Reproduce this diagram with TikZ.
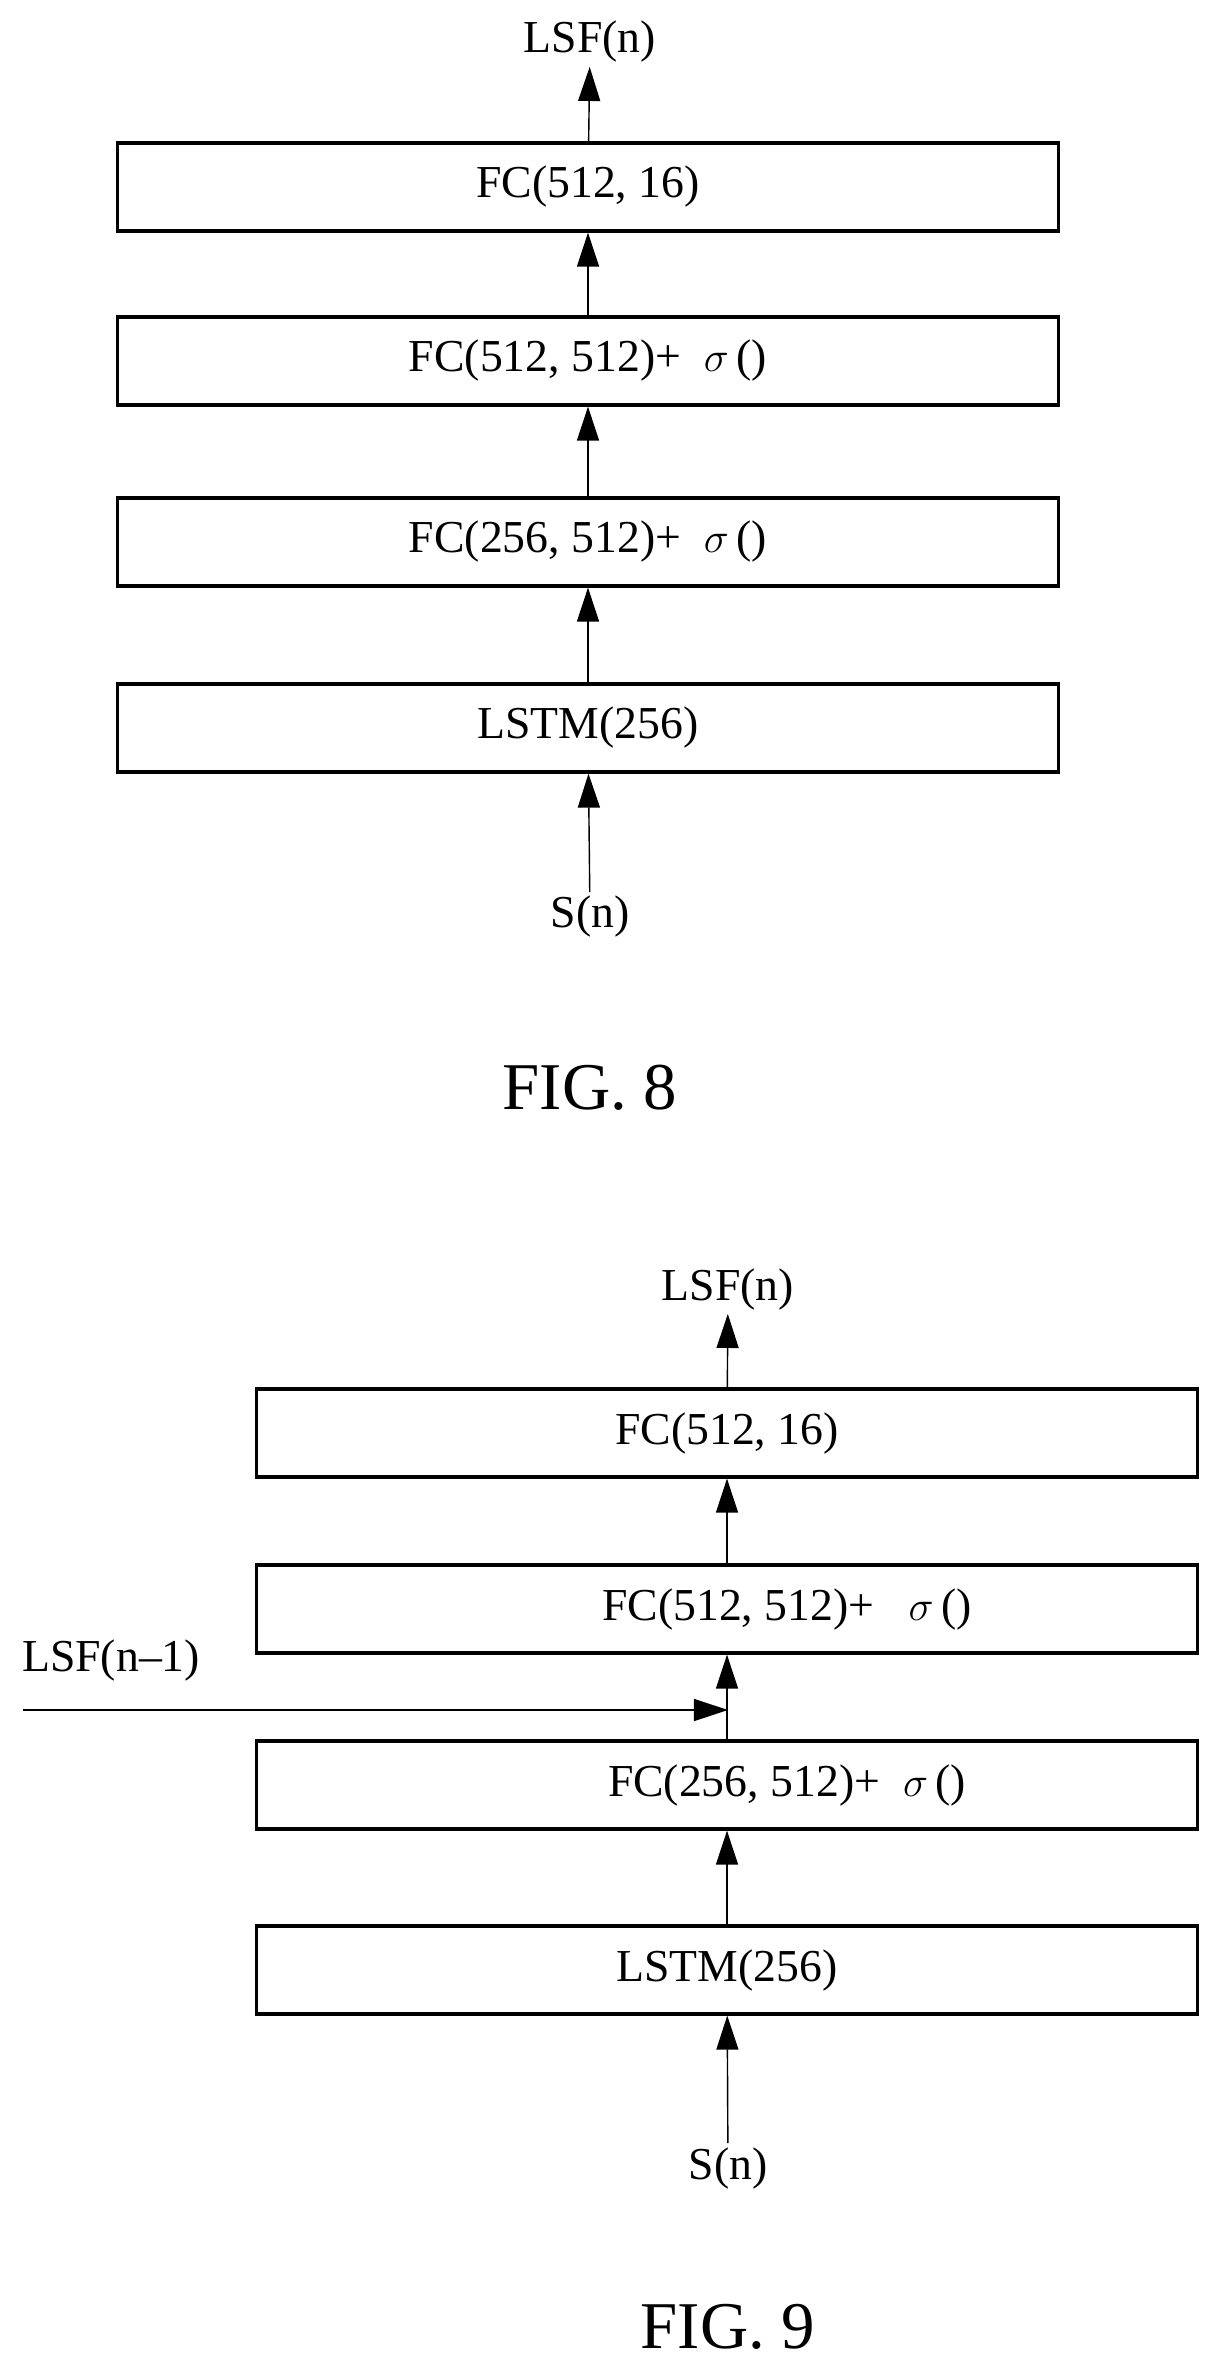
\documentclass[tikz,border=0pt]{standalone}
\usepackage{fontspec}
\setmainfont{Liberation Serif}
\usetikzlibrary{arrows.meta}

\tikzset{
   layer/.style={draw,line width=0.9pt,minimum width=9.4cm,minimum height=0.88cm,
      inner sep=0pt,font=\fontsize{13}{15}\selectfont},
   lbl/.style={inner sep=1pt,font=\fontsize{13}{15}\selectfont},
   flow/.style={line width=0.4pt,-{Triangle[length=0.34cm,width=0.22cm]}}
}

\begin{document}
\begin{tikzpicture}[x=0.01cm,y=-0.01cm]
   \useasboundingbox (0,0) rectangle (1222,2379);

   % FIG. 8
   \node [lbl] (outa) at (590,42) {LSF(n)};
   \node [layer] (fca) at (588,187) {FC(512, 16)};
   \node [layer] (fcb) at (588,361) {FC(512, 512)+\ \ $\sigma$\,()};
   \node [layer] (fcc) at (588,542) {FC(256, 512)+\ \ $\sigma$\,()};
   \node [layer] (lstma) at (588,728) {LSTM(256)};
   \node [lbl] (ina) at (590,917) {S(n)};
   \node [font=\fontsize{19}{22}\selectfont] (figa) at (590,1088) {FIG. 8};

   \draw [flow] (ina) -- (lstma);
   \draw [flow] (lstma) -- (fcc);
   \draw [flow] (fcc) -- (fcb);
   \draw [flow] (fcb) -- (fca);
   \draw [flow] (fca) -- (outa);

   % FIG. 9
   \node [lbl] (outb) at (728,1289) {LSF(n)};
   \node [layer] (fcd) at (727,1433) {FC(512, 16)};
   \node [layer] (fce) at (727,1609) {\hspace*{1.2cm}FC(512, 512)+\ \ \ $\sigma$\,()};
   \node [layer] (fcf) at (727,1785) {\hspace*{1.2cm}FC(256, 512)+\ \ $\sigma$\,()};
   \node [layer] (lstmb) at (727,1970) {LSTM(256)};
   \node [lbl] (inb) at (728,2168) {S(n)};
   \node [lbl,anchor=west] (prev) at (18,1660) {LSF(n--1)};
   \coordinate (prevend) at (23,1710);
   \coordinate (join) at (728,1710);
   \node [font=\fontsize{19}{22}\selectfont] (figb) at (728,2327) {FIG. 9};

   \draw [flow] (inb) -- (lstmb);
   \draw [flow] (lstmb) -- (fcf);
   \draw [flow] (fcf) -- (fce);
   \draw [flow] (fce) -- (fcd);
   \draw [flow] (fcd) -- (outb);
   \draw [flow] (prevend) -- (join);
\end{tikzpicture}
\end{document}
